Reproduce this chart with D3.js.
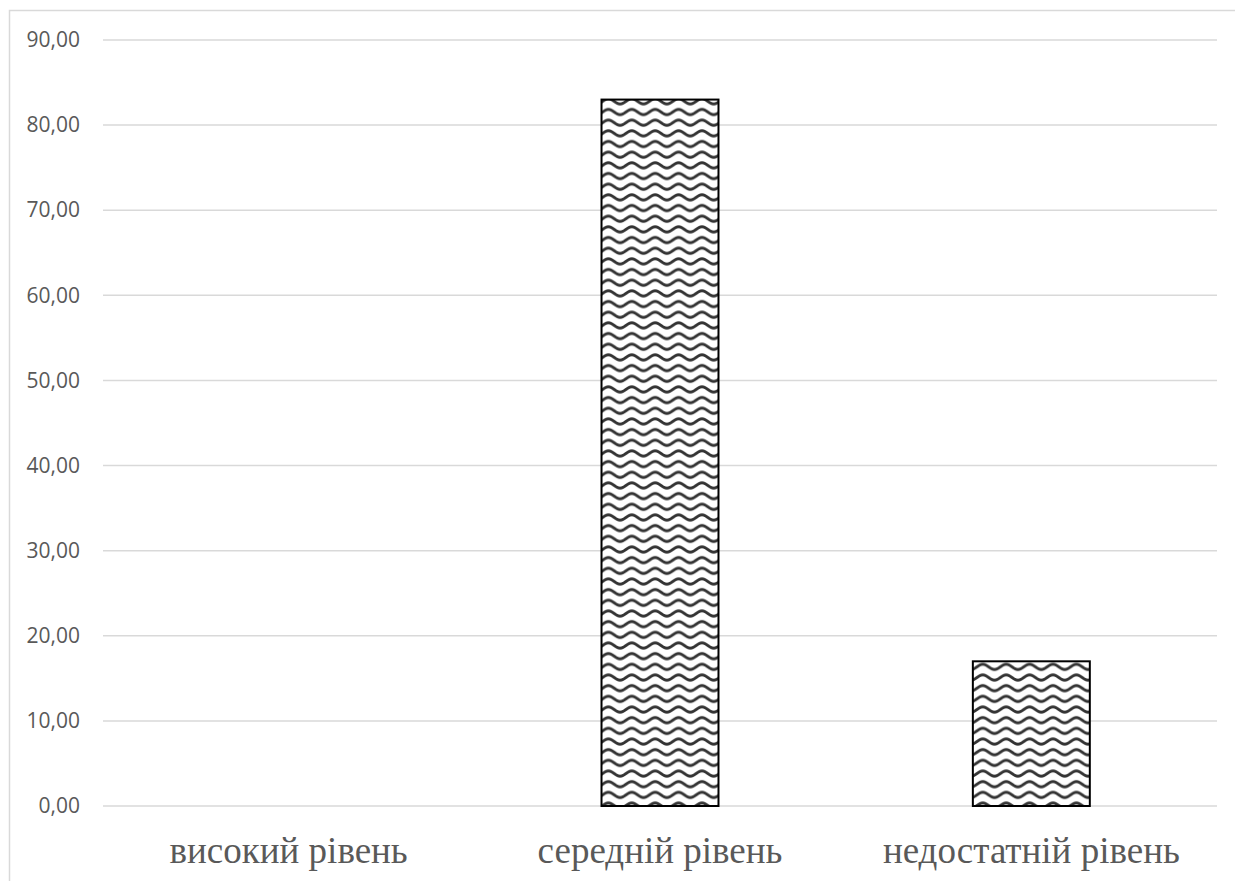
<!DOCTYPE html>
<html>
<head>
<meta charset="utf-8">
<script src="https://cdn.jsdelivr.net/npm/d3@7"></script>
<style>
  html, body { margin: 0; padding: 0; background: #fff; }
  svg { display: block; }
</style>
</head>
<body>
<svg id="chart" width="1235" height="881"></svg>
<script>
const categories = ["високий рівень", "середній рівень", "недостатній рівень"];
const values = [0, 83.0, 17.0];
const yTicks = [0, 10, 20, 30, 40, 50, 60, 70, 80, 90];

const svg = d3.select("#chart");
const W = 1235, H = 881;
const mLeft = 103, mRight = 1217, mTop = 40, mBottom = 806;

// chart border (clipped by viewport on right/bottom)
svg.append("rect")
  .attr("x", 9.5).attr("y", 10.5)
  .attr("width", W + 10).attr("height", H + 10)
  .attr("fill", "#fff").attr("stroke", "#d9d9d9").attr("stroke-width", 1.5);

// wave pattern
const defs = svg.append("defs");
const pw = 23.4, ph = 10.67;
const pat = defs.append("pattern")
  .attr("id", "wave").attr("patternUnits", "userSpaceOnUse")
  .attr("width", pw).attr("height", ph);
pat.append("rect").attr("width", pw).attr("height", ph).attr("fill", "#fff");
const amp = 2.6, mid = ph / 2;
const wavePts = d3.range(0, 33).map(i => {
  const xx = -pw * 0.5 + i * (pw * 2 / 32);
  return [xx, mid - amp * Math.cos(2 * Math.PI * xx / pw)];
});
const wl = d3.line();
[-ph, 0, ph].forEach(dy => {
  pat.append("path")
    .attr("d", wl(wavePts.map(([a, b]) => [a, b + dy])))
    .attr("fill", "none").attr("stroke", "#333").attr("stroke-width", 2.8);
});

const x = d3.scaleBand().domain(categories).range([mLeft, mRight])
  .paddingInner(0.685).paddingOuter(0.3425);
const y = d3.scaleLinear().domain([0, 90]).range([mBottom, mTop]);

// gridlines
svg.append("g").selectAll("line").data(yTicks).join("line")
  .attr("x1", mLeft).attr("x2", mRight)
  .attr("y1", d => y(d)).attr("y2", d => y(d))
  .attr("stroke", "#d9d9d9").attr("stroke-width", 1.5);

// y axis labels
const yAxis = d3.axisLeft(y).tickValues(yTicks).tickSize(0).tickPadding(0)
  .tickFormat(d => d3.format(".2f")(d).replace(".", ","));
const yg = svg.append("g").attr("transform", "translate(80,0)").call(yAxis);
yg.select(".domain").remove();
yg.selectAll("text")
  .attr("fill", "#595959")
  .attr("font-family", "'Open Sans', 'Noto Sans', sans-serif")
  .attr("font-size", 21);

// bars
svg.append("g").selectAll("rect").data(values).join("rect")
  .attr("x", (d, i) => x(categories[i]))
  .attr("y", d => y(d))
  .attr("width", x.bandwidth())
  .attr("height", d => y(0) - y(d))
  .attr("fill", "url(#wave)")
  .attr("stroke", d => d > 0 ? "#000" : "none")
  .attr("stroke-width", 2);

// category labels
const xAxis = d3.axisBottom(x).tickSize(0).tickPadding(0);
const xg = svg.append("g").attr("transform", `translate(0,${mBottom})`).call(xAxis);
xg.select(".domain").remove();
xg.selectAll("text")
  .attr("dy", null)
  .attr("y", 57)
  .attr("fill", "#595959")
  .attr("font-family", "'Liberation Serif', 'Times New Roman', serif")
  .attr("font-size", 37);
</script>
</body>
</html>
